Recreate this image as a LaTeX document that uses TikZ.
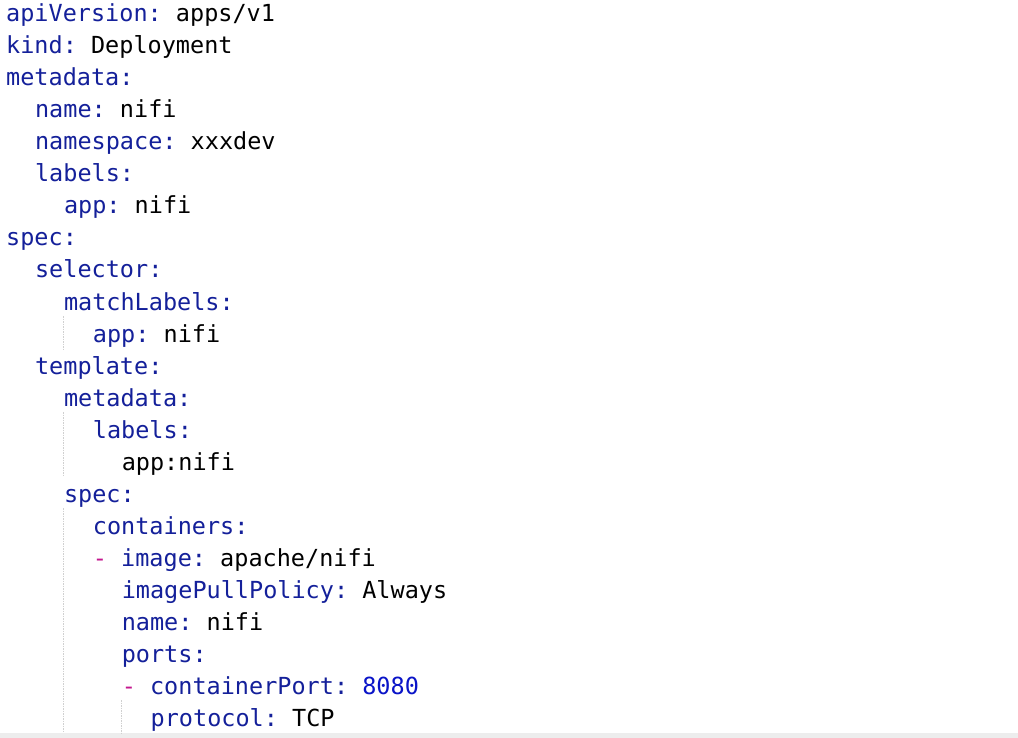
\documentclass[tikz,border=0pt]{standalone}
\usepackage{fontspec}
\setmonofont{DejaVu Sans Mono}
\definecolor{kc}{HTML}{14209A}
\definecolor{dc}{HTML}{C4178E}
\definecolor{nc}{HTML}{0A14C8}
\definecolor{gc}{HTML}{D0D0D0}
\tikzset{ln/.style={anchor=base west,inner sep=0pt,font=\fontsize{23.5pt}{32pt}\ttfamily},
guide/.style={gc,line width=1pt,dash pattern=on 1.5pt off 1pt}}
\newcommand{\K}[1]{\textcolor{kc}{#1}}
\newcommand{\D}{\textcolor{dc}{-}}
\begin{document}
\begin{tikzpicture}[x=1pt,y=-1pt]
\useasboundingbox[fill=white] (0,0) rectangle (1018,738);
\fill[black!7] (0,733) rectangle (1018,738);
\def\ch{14.45}
\foreach \i/\ind/\txt [count=\n] in {
1/0/{\K{apiVersion:} apps/v1},
2/0/{\K{kind:} Deployment},
3/0/{\K{metadata:}},
4/2/{\K{name:} nifi},
5/2/{\K{namespace:} xxxdev},
6/2/{\K{labels:}},
7/4/{\K{app:} nifi},
8/0/{\K{spec:}},
9/2/{\K{selector:}},
10/4/{\K{matchLabels:}},
11/6/{\K{app:} nifi},
12/2/{\K{template:}},
13/4/{\K{metadata:}},
14/6/{\K{labels:}},
15/8/{app:nifi},
16/4/{\K{spec:}},
17/6/{\K{containers:}},
18/6/{\D{} \K{image:} apache/nifi},
19/8/{\K{imagePullPolicy:} Always},
20/8/{\K{name:} nifi},
21/8/{\K{ports:}},
22/8/{\D{} \K{containerPort:} \textcolor{nc}{8080}},
23/10/{\K{protocol:} TCP}}
{\node[ln] (l\i) at ({6+\ind*\ch},{22+32*(\i-1)}) {\txt};}
\foreach \gx/\a/\b in {63/11/11,63/14/15,63/17/23,121/23/23}
{\draw[guide] (\gx,{22+32*(\a-1)-26}) -- (\gx,{min(733,22+32*(\b-1)+7)});}
\end{tikzpicture}
\end{document}
